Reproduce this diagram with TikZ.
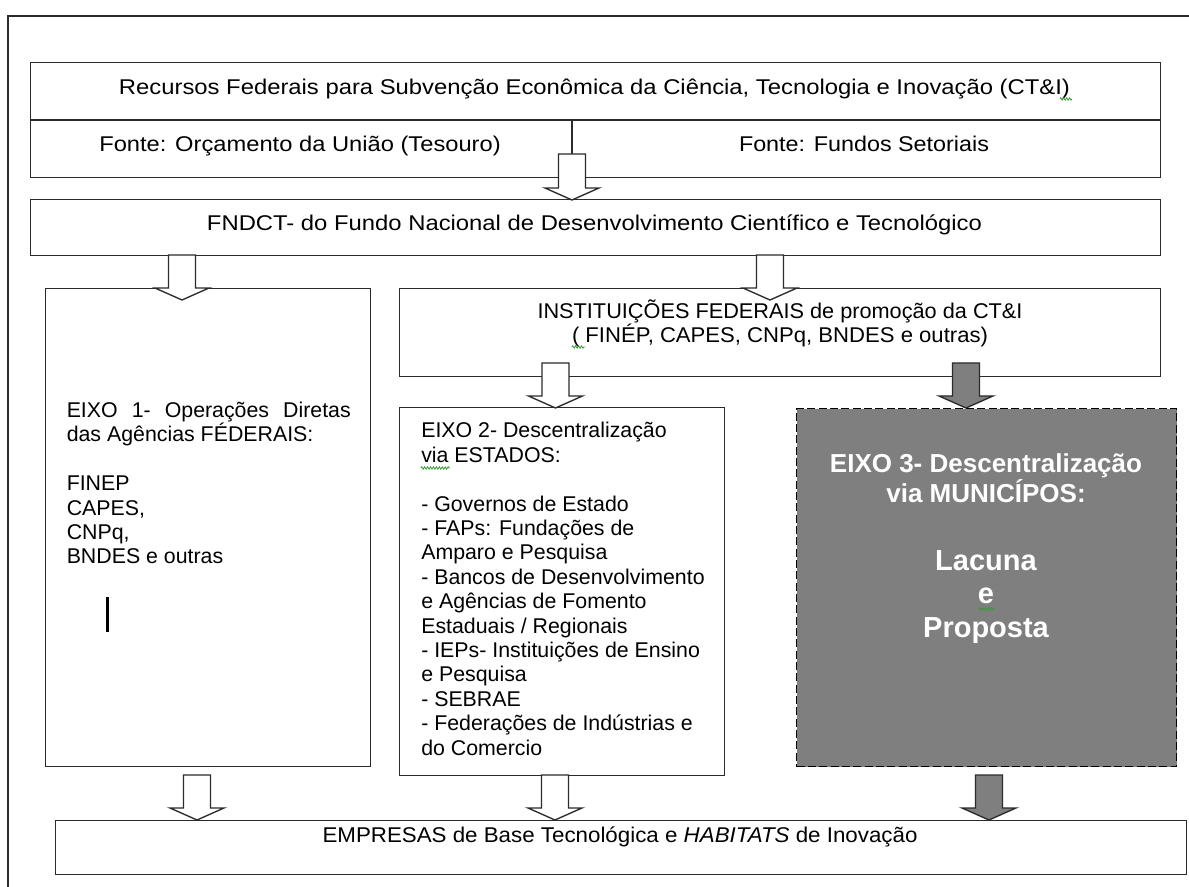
\documentclass[tikz,border=0pt]{standalone}
\usepackage{fontspec}
\setmainfont{Liberation Sans}
\usepackage{graphicx}
\usetikzlibrary{decorations.pathmorphing}
\newcommand{\fitw}[2]{\resizebox{#1}{\height}{#2}}
\definecolor{edge}{HTML}{2B2B2B}
\definecolor{midgray}{HTML}{7F7F7F}
\definecolor{squig}{HTML}{3A9A3A}
\tikzset{
  box/.style={draw=edge, line width=1.1pt, fill=white, rectangle, inner sep=0pt, anchor=north west},
  darkbox/.style={box, fill=midgray, dash pattern=on 6pt off 2.5pt, draw=black},
  blockarrow/.style={draw=edge, line width=1pt, fill=white, line join=miter,
    to path={([xshift=-10.125pt]\tikztostart) -- ([xshift=-10.125pt,yshift=9pt]\tikztotarget)
      -- ([xshift=-20.25pt,yshift=9pt]\tikztotarget) -- (\tikztotarget)
      -- ([xshift=20.25pt,yshift=9pt]\tikztotarget) -- ([xshift=10.125pt,yshift=9pt]\tikztotarget)
      -- ([xshift=10.125pt]\tikztostart) -- cycle}},
  darkarrow/.style={blockarrow, fill=midgray},
  txt/.style={inner sep=0pt, font=\fontsize{16}{18.3}\selectfont, text=black},
  bigtxt/.style={inner sep=0pt, text=white, align=center, font=\bfseries\fontsize{19.5}{22.5}\selectfont},
  hugetxt/.style={inner sep=0pt, text=white, align=center, font=\bfseries\fontsize{21.75}{25.1}\selectfont},
  squiggle/.style={draw=squig, line width=0.6pt, decorate, decoration={zigzag, segment length=2.2pt, amplitude=0.9pt}},
}
\begin{document}
\begin{tikzpicture}[x=0.75pt, y=-0.75pt]
\useasboundingbox (0,0) rectangle (1189,887);
% outer frame
\draw[edge, line width=1.2pt] (8,887) -- (8,16) -- (1189,16);

% boxes
\node[box, minimum width=847.5pt, minimum height=86.25pt] (top) at (30,62) {};
\node[box, minimum width=847.5pt, minimum height=42pt] (fndct) at (30,199) {};
\node[box, minimum width=243.75pt, minimum height=358.5pt] (e1) at (45,288) {};
\node[box, minimum width=570.75pt, minimum height=66pt] (inst) at (399,288) {};
\node[box, minimum width=243.75pt, minimum height=276pt] (e2) at (399,407) {};
\node[darkbox, minimum width=285pt, minimum height=268.5pt] (e3) at (796,408) {};
\node[box, minimum width=848.25pt, minimum height=40.5pt] (emp) at (55,820) {};

% dividers of the top box
\coordinate (divL) at (30,120);
\coordinate (divR) at (1160,120);
\coordinate (divT) at (572,120);
\coordinate (a0s) at (572,154);
\draw[edge, line width=1.1pt] (divL) -- (divR);
\draw[edge, line width=1.1pt] (divT) -- (a0s);

% arrow coordinates
\coordinate (a0e) at (572,200);
\coordinate (a1s) at (182,255);  \coordinate (a1e) at (182,300);
\coordinate (a2s) at (770,255);  \coordinate (a2e) at (770,300);
\coordinate (a3s) at (555.5,363); \coordinate (a3e) at (555.5,408);
\coordinate (a4s) at (966,363);  \coordinate (a4e) at (966,408);
\coordinate (a5s) at (197,775);  \coordinate (a5e) at (197,820);
\coordinate (a6s) at (555,775);  \coordinate (a6e) at (555,820);
\coordinate (a7s) at (989,775);  \coordinate (a7e) at (989,820);

\draw[blockarrow] (a0s) to (a0e);
\draw[blockarrow] (a1s) to (a1e);
\draw[blockarrow] (a2s) to (a2e);
\draw[blockarrow] (a3s) to (a3e);
\draw[darkarrow] (a4s) to (a4e);
\draw[blockarrow] (a5s) to (a5e);
\draw[blockarrow] (a6s) to (a6e);
\draw[darkarrow] (a7s) to (a7e);

% texts
\node[txt, anchor=base] (t1) at (594.5,95) {\fitw{713.25pt}{Recursos Federais para Subvenção Econômica da Ciência, Tecnologia e Inovação (CT\&I)}};
\node[txt, anchor=base] (t2) at (300,152) {\fitw{301.1pt}{Fonte: Orçamento da União (Tesouro)}};
\node[txt, anchor=base] (t3) at (864,152) {\fitw{187.5pt}{Fonte: Fundos Setoriais}};
\node[txt, anchor=base] (t4) at (594.5,231) {\fitw{581.25pt}{FNDCT- do Fundo Nacional de Desenvolvimento Científico e Tecnológico}};
\node[txt, anchor=base] (t5) at (780,319) {\fitw{363.75pt}{INSTITUIÇÕES FEDERAIS de promoção da CT\&I}};
\node[txt, anchor=base] (t6) at (780,343) {\fitw{312pt}{( FINÉP, CAPES, CNPq, BNDES e outras)}};
\node[txt, anchor=base] (t7) at (620,842) {\fitw{446.25pt}{EMPRESAS de Base Tecnológica e \textit{HABITATS} de Inovação}};

% multi-line nodes: base anchor = baseline of the last line
\node[txt, anchor=base west, align=left] (t8) at (66.5,564) {\makebox[213pt][s]{EIXO 1- Operações Diretas}\\
das Agências FÉDERAIS:\\ \mbox{}\\ FINEP\\ CAPES,\\ CNPq,\\ BNDES e outras};
\fill[black] (105.5,597) rectangle (108.5,632);

\node[txt, anchor=base west, align=left] (t9) at (421,755) {EIXO 2- Descentralização\\
via ESTADOS:\\ \mbox{}\\
- Governos de Estado\\
- FAPs: Fundações de\\
Amparo e Pesquisa\\
- Bancos de Desenvolvimento\\
e Agências de Fomento\\
Estaduais / Regionais\\
- IEPs- Instituições de Ensino\\
e Pesquisa\\
- SEBRAE\\
- Federações de Indústrias e\\
do Comercio};

\node[bigtxt, anchor=base] (t10) at (986,503) {EIXO 3- Descentralização\\ via MUNICÍPOS:};
\node[hugetxt, anchor=base] (t11) at (986,637) {Lacuna\\ e\\ Proposta};

% spell-check squiggles
\draw[squiggle] (1060,99) -- (1072,99);
\draw[squiggle] (572,347) -- (585,347);
\draw[squiggle] (421,468) -- (450,468);
\draw[squiggle] (979,609) -- (995,609);
\end{tikzpicture}
\end{document}
